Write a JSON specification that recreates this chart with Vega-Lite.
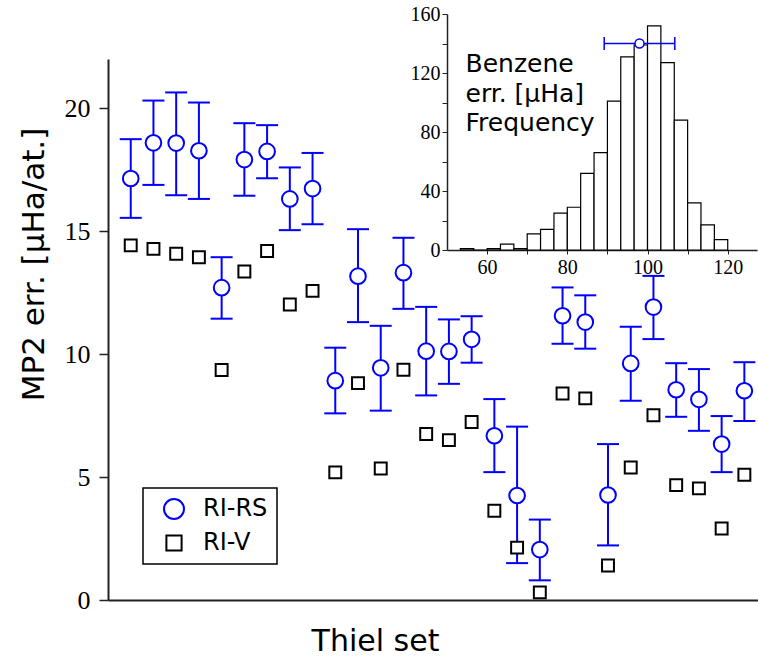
{
  "$schema": "https://vega.github.io/schema/vega-lite/v6.json",
  "width": 650,
  "height": 541,
  "autosize": {"type": "none"},
  "padding": {"left": 108, "top": 59, "right": 0, "bottom": 57},
  "background": "white",
  "config": {
    "view": {"stroke": null},
    "axis": {"grid": false},
    "legend": {"strokeWidth": 1.5}
  },
  "datasets": {
    "main": [
      {"set": 1, "series": "RI-RS", "value": 17.14, "lo": 15.54, "hi": 18.74},
      {"set": 2, "series": "RI-RS", "value": 18.59, "lo": 16.88, "hi": 20.31},
      {"set": 3, "series": "RI-RS", "value": 18.58, "lo": 16.46, "hi": 20.64},
      {"set": 4, "series": "RI-RS", "value": 18.27, "lo": 16.31, "hi": 20.23},
      {"set": 5, "series": "RI-RS", "value": 12.70, "lo": 11.44, "hi": 13.94},
      {"set": 6, "series": "RI-RS", "value": 17.91, "lo": 16.44, "hi": 19.39},
      {"set": 7, "series": "RI-RS", "value": 18.24, "lo": 17.15, "hi": 19.31},
      {"set": 8, "series": "RI-RS", "value": 16.31, "lo": 15.04, "hi": 17.59},
      {"set": 9, "series": "RI-RS", "value": 16.73, "lo": 15.28, "hi": 18.18},
      {"set": 10, "series": "RI-RS", "value": 8.92, "lo": 7.59, "hi": 10.26},
      {"set": 11, "series": "RI-RS", "value": 13.17, "lo": 11.30, "hi": 15.08},
      {"set": 12, "series": "RI-RS", "value": 9.44, "lo": 7.70, "hi": 11.15},
      {"set": 13, "series": "RI-RS", "value": 13.31, "lo": 11.84, "hi": 14.73},
      {"set": 14, "series": "RI-RS", "value": 10.12, "lo": 8.32, "hi": 11.92},
      {"set": 15, "series": "RI-RS", "value": 10.11, "lo": 8.79, "hi": 11.41},
      {"set": 16, "series": "RI-RS", "value": 10.60, "lo": 9.65, "hi": 11.54},
      {"set": 17, "series": "RI-RS", "value": 6.68, "lo": 5.20, "hi": 8.17},
      {"set": 18, "series": "RI-RS", "value": 4.25, "lo": 1.50, "hi": 7.05},
      {"set": 19, "series": "RI-RS", "value": 2.05, "lo": 0.80, "hi": 3.27},
      {"set": 20, "series": "RI-RS", "value": 11.56, "lo": 10.42, "hi": 12.71},
      {"set": 21, "series": "RI-RS", "value": 11.30, "lo": 10.22, "hi": 12.39},
      {"set": 22, "series": "RI-RS", "value": 4.27, "lo": 2.22, "hi": 6.34},
      {"set": 23, "series": "RI-RS", "value": 9.62, "lo": 8.10, "hi": 11.11},
      {"set": 24, "series": "RI-RS", "value": 11.91, "lo": 10.61, "hi": 13.18},
      {"set": 25, "series": "RI-RS", "value": 8.55, "lo": 7.45, "hi": 9.63},
      {"set": 26, "series": "RI-RS", "value": 8.16, "lo": 6.88, "hi": 9.39},
      {"set": 27, "series": "RI-RS", "value": 6.34, "lo": 5.20, "hi": 7.48},
      {"set": 28, "series": "RI-RS", "value": 8.51, "lo": 7.28, "hi": 9.67},
      {"set": 1, "series": "RI-V", "value": 14.42},
      {"set": 2, "series": "RI-V", "value": 14.28},
      {"set": 3, "series": "RI-V", "value": 14.08},
      {"set": 4, "series": "RI-V", "value": 13.94},
      {"set": 5, "series": "RI-V", "value": 9.35},
      {"set": 6, "series": "RI-V", "value": 13.36},
      {"set": 7, "series": "RI-V", "value": 14.19},
      {"set": 8, "series": "RI-V", "value": 12.02},
      {"set": 9, "series": "RI-V", "value": 12.57},
      {"set": 10, "series": "RI-V", "value": 5.19},
      {"set": 11, "series": "RI-V", "value": 8.82},
      {"set": 12, "series": "RI-V", "value": 5.35},
      {"set": 13, "series": "RI-V", "value": 9.36},
      {"set": 14, "series": "RI-V", "value": 6.75},
      {"set": 15, "series": "RI-V", "value": 6.50},
      {"set": 16, "series": "RI-V", "value": 7.24},
      {"set": 17, "series": "RI-V", "value": 3.63},
      {"set": 18, "series": "RI-V", "value": 2.13},
      {"set": 19, "series": "RI-V", "value": 0.31},
      {"set": 20, "series": "RI-V", "value": 8.40},
      {"set": 21, "series": "RI-V", "value": 8.20},
      {"set": 22, "series": "RI-V", "value": 1.40},
      {"set": 23, "series": "RI-V", "value": 5.39},
      {"set": 24, "series": "RI-V", "value": 7.51},
      {"set": 25, "series": "RI-V", "value": 4.67},
      {"set": 26, "series": "RI-V", "value": 4.54},
      {"set": 27, "series": "RI-V", "value": 2.91},
      {"set": 28, "series": "RI-V", "value": 5.09}
    ],
    "hist": [
      {"lo": 53.33, "hi": 56.67, "count": 1},
      {"lo": 56.67, "hi": 60.0, "count": 0},
      {"lo": 60.0, "hi": 63.33, "count": 1},
      {"lo": 63.33, "hi": 66.67, "count": 4},
      {"lo": 66.67, "hi": 70.0, "count": 1},
      {"lo": 70.0, "hi": 73.33, "count": 11},
      {"lo": 73.33, "hi": 76.67, "count": 14},
      {"lo": 76.67, "hi": 80.0, "count": 25},
      {"lo": 80.0, "hi": 83.33, "count": 29},
      {"lo": 83.33, "hi": 86.67, "count": 52},
      {"lo": 86.67, "hi": 90.0, "count": 66},
      {"lo": 90.0, "hi": 93.33, "count": 101},
      {"lo": 93.33, "hi": 96.67, "count": 131},
      {"lo": 96.67, "hi": 100.0, "count": 139},
      {"lo": 100.0, "hi": 103.33, "count": 152},
      {"lo": 103.33, "hi": 106.67, "count": 127},
      {"lo": 106.67, "hi": 110.0, "count": 88},
      {"lo": 110.0, "hi": 113.33, "count": 32},
      {"lo": 113.33, "hi": 116.67, "count": 17},
      {"lo": 116.67, "hi": 120.0, "count": 7}
    ],
    "benz": [
      {"mean": 98.0, "lo": 89.2, "hi": 106.8, "freq": 140}
    ]
  },
  "layer": [
    {
      "data": {"name": "main"},
      "encoding": {
        "x": {
          "field": "set", "type": "quantitative",
          "scale": {"domain": [0, 28.6], "nice": false, "zero": false},
          "axis": {
            "title": "Thiel set", "labels": false, "ticks": false, "grid": false,
            "domainColor": "#222", "domainWidth": 2,
            "titleFont": "DejaVu Sans", "titleFontSize": 30, "titleFontWeight": "normal", "titleColor": "black",
            "titleX": 267, "titleY": 50, "titleAlign": "center", "titleBaseline": "alphabetic"
          }
        }
      },
      "layer": [
        {
          "transform": [{"filter": "datum.series === 'RI-RS'"}],
          "mark": {"type": "rule", "color": "blue", "strokeWidth": 2},
          "encoding": {
            "y": {"field": "lo", "type": "quantitative", "scale": {"domain": [0, 22], "nice": false}},
            "y2": {"field": "hi"}
          }
        },
        {
          "transform": [{"filter": "datum.series === 'RI-RS'"}],
          "mark": {"type": "tick", "orient": "horizontal", "color": "blue", "size": 22, "thickness": 2, "opacity": 1},
          "encoding": {"y": {"field": "lo", "type": "quantitative"}}
        },
        {
          "transform": [{"filter": "datum.series === 'RI-RS'"}],
          "mark": {"type": "tick", "orient": "horizontal", "color": "blue", "size": 22, "thickness": 2, "opacity": 1},
          "encoding": {"y": {"field": "hi", "type": "quantitative"}}
        },
        {
          "mark": {"type": "point", "filled": true, "fill": "white", "strokeWidth": 2, "size": 246, "opacity": 1},
          "encoding": {
            "y": {
              "field": "value", "type": "quantitative",
              "axis": {
                "title": "MP2 err. [μHa/at.]", "values": [0, 5, 10, 15, 20], "grid": false,
                "tickSize": 9, "tickWidth": 1.5, "tickColor": "#222",
                "domainColor": "#222", "domainWidth": 2,
                "labelFont": "Liberation Serif", "labelFontSize": 26, "labelColor": "black", "labelPadding": 9,
                "titleFont": "DejaVu Sans", "titleFontSize": 31, "titleFontWeight": "normal", "titleColor": "black",
                "titleAngle": -90, "titleX": -65, "titleY": 205, "titleAlign": "center", "titleBaseline": "alphabetic"
              }
            },
            "shape": {
              "field": "series", "type": "nominal",
              "scale": {"domain": ["RI-RS", "RI-V"], "range": ["circle", "M-0.76,-0.76H0.76V0.76H-0.76Z"]},
              "legend": {
                "title": null, "orient": "none", "legendX": 35, "legendY": 429,
                "strokeColor": "black", "padding": 9, "rowPadding": 8, "symbolOffset": 10,
                "labelFont": "DejaVu Sans", "labelFontSize": 24, "labelColor": "black", "labelOffset": 17,
                "labelExpr": "datum.label + '  '",
                "symbolSize": 400, "symbolStrokeWidth": 2, "symbolFillColor": "white"
              }
            },
            "stroke": {
              "field": "series", "type": "nominal",
              "scale": {"domain": ["RI-RS", "RI-V"], "range": ["blue", "black"]},
              "legend": {
                "title": null, "orient": "none", "legendX": 35, "legendY": 429,
                "strokeColor": "black", "padding": 9, "rowPadding": 8, "symbolOffset": 10,
                "labelFont": "DejaVu Sans", "labelFontSize": 24, "labelColor": "black", "labelOffset": 17,
                "labelExpr": "datum.label + '  '",
                "symbolSize": 400, "symbolStrokeWidth": 2, "symbolFillColor": "white"
              }
            }
          }
        }
      ]
    },
    {
      "layer": [
        {
          "data": {"name": "hist"},
          "mark": {"type": "bar", "fill": "white", "stroke": "black", "strokeWidth": 1.2},
          "encoding": {
            "x": {
              "field": "lo", "type": "quantitative",
              "scale": {"domain": [50, 127.3], "range": [339, 649], "nice": false, "zero": false},
              "axis": {
                "orient": "bottom", "offset": -350, "grid": false,
                "values": [60, 70, 80, 90, 100, 110, 120],
                "labelExpr": "datum.value % 20 === 0 ? datum.label : ''",
                "tickSize": 4, "tickWidth": 1, "tickColor": "#222",
                "domainColor": "#222", "domainWidth": 1.5,
                "labelFont": "Liberation Serif", "labelFontSize": 20, "labelColor": "black", "labelPadding": 3,
                "labelFlush": false, "labelOverlap": false,
                "title": ["Benzene", "err. [μHa]"],
                "titleFont": "DejaVu Sans", "titleFontSize": 25, "titleFontWeight": "normal", "titleColor": "black",
                "titleX": 357, "titleY": -179, "titleAlign": "left", "titleBaseline": "alphabetic",
                "titleLineHeight": 30, "titleAngle": 0
              }
            },
            "x2": {"field": "hi"},
            "y": {
              "field": "count", "type": "quantitative",
              "scale": {"domain": [0, 160], "range": [191, -45], "nice": false},
              "axis": {
                "orient": "left", "offset": -339, "grid": false,
                "values": [0, 20, 40, 60, 80, 100, 120, 140, 160],
                "labelExpr": "datum.value % 40 === 0 ? datum.label : ''",
                "tickSize": 5, "tickWidth": 1, "tickColor": "#222",
                "domainColor": "#222", "domainWidth": 1.5,
                "labelFont": "Liberation Serif", "labelFontSize": 20, "labelColor": "black", "labelPadding": 2,
                "labelFlush": false, "labelOverlap": false,
                "title": "Frequency",
                "titleFont": "DejaVu Sans", "titleFontSize": 25, "titleFontWeight": "normal", "titleColor": "black",
                "titleX": 18, "titleY": 71, "titleAlign": "left", "titleBaseline": "alphabetic", "titleAngle": 0
              }
            },
            "y2": {"datum": 0}
          }
        },
        {
          "data": {"name": "benz"},
          "mark": {"type": "rule", "color": "blue", "strokeWidth": 1.5},
          "encoding": {
            "x": {"field": "lo", "type": "quantitative", "scale": {"domain": [50, 127.3], "range": [339, 649], "nice": false, "zero": false}},
            "x2": {"field": "hi"},
            "y": {"field": "freq", "type": "quantitative", "scale": {"domain": [0, 160], "range": [191, -45], "nice": false}}
          }
        },
        {
          "data": {"name": "benz"},
          "mark": {"type": "tick", "orient": "vertical", "color": "blue", "size": 13, "thickness": 1.5, "opacity": 1},
          "encoding": {
            "x": {"field": "lo", "type": "quantitative", "scale": {"domain": [50, 127.3], "range": [339, 649], "nice": false, "zero": false}},
            "y": {"field": "freq", "type": "quantitative", "scale": {"domain": [0, 160], "range": [191, -45], "nice": false}}
          }
        },
        {
          "data": {"name": "benz"},
          "mark": {"type": "tick", "orient": "vertical", "color": "blue", "size": 13, "thickness": 1.5, "opacity": 1},
          "encoding": {
            "x": {"field": "hi", "type": "quantitative", "scale": {"domain": [50, 127.3], "range": [339, 649], "nice": false, "zero": false}},
            "y": {"field": "freq", "type": "quantitative", "scale": {"domain": [0, 160], "range": [191, -45], "nice": false}}
          }
        },
        {
          "data": {"name": "benz"},
          "mark": {"type": "point", "shape": "circle", "filled": true, "fill": "white", "stroke": "blue", "strokeWidth": 1.5, "size": 81, "opacity": 1},
          "encoding": {
            "x": {"field": "mean", "type": "quantitative", "scale": {"domain": [50, 127.3], "range": [339, 649], "nice": false, "zero": false}},
            "y": {"field": "freq", "type": "quantitative", "scale": {"domain": [0, 160], "range": [191, -45], "nice": false}}
          }
        }
      ]
    }
  ],
  "resolve": {
    "scale": {"x": "independent", "y": "independent"},
    "axis": {"x": "independent", "y": "independent"}
  }
}
